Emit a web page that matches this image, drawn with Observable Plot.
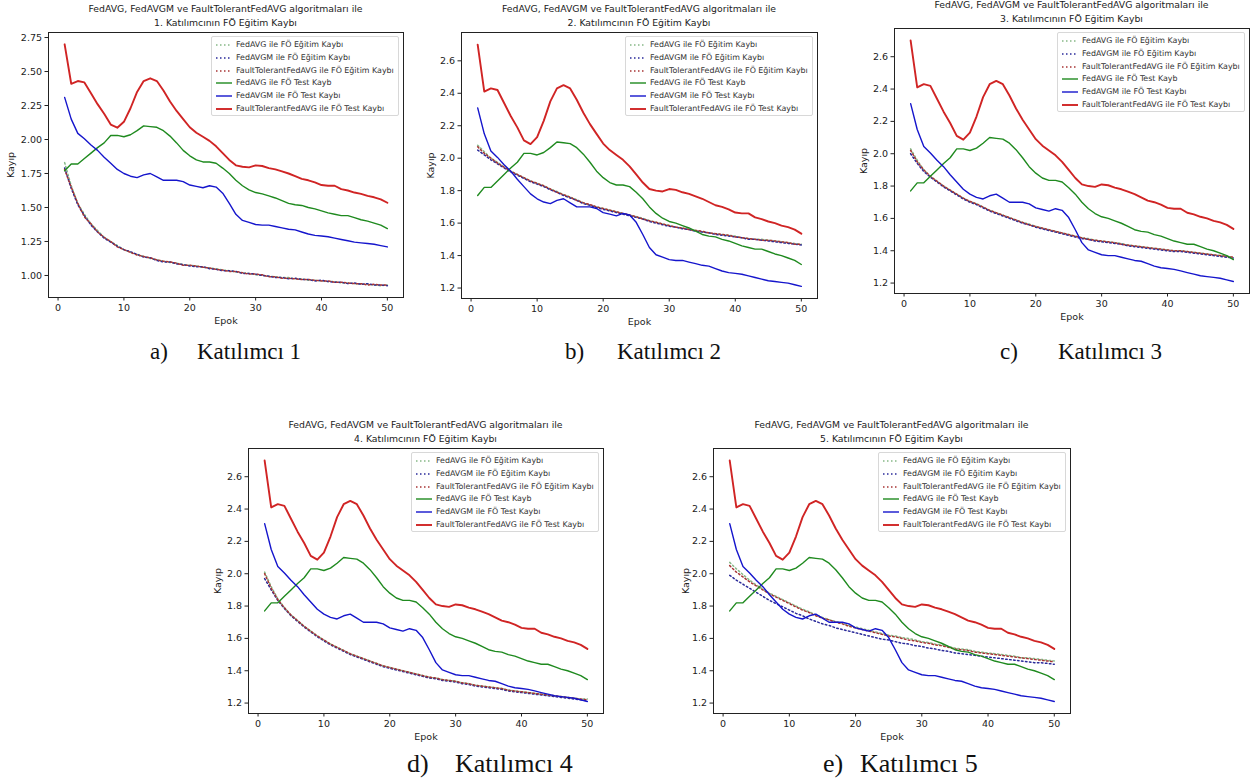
<!DOCTYPE html>
<html><head><meta charset="utf-8">
<script src="https://cdn.jsdelivr.net/npm/d3@7"></script>
<script src="https://cdn.jsdelivr.net/npm/@observablehq/plot@0.6"></script>
<style>
html,body{margin:0;padding:0;background:#fff;}
body{width:1256px;height:783px;position:relative;overflow:hidden;font-family:"DejaVu Sans",sans-serif;}
.abs{position:absolute;}
.title{font-size:9.3px;color:#222;text-align:center;line-height:13.5px;white-space:nowrap;}
.legend{border:1px solid #d8d8d8;border-radius:2px;background:rgba(255,255,255,0.85);box-sizing:border-box;}
.lrow{position:absolute;left:0;height:12px;font-size:7.9px;color:#333;white-space:nowrap;}
.cap{font-family:"Liberation Serif","Times New Roman",serif;color:#111;line-height:1;white-space:nowrap;}
</style></head>
<body>
<script>
const epochs = [1,2,3,4,5,6,7,8,9,10,11,12,13,14,15,16,17,18,19,20,21,22,23,24,25,26,27,28,29,30,31,32,33,34,35,36,37,38,39,40,41,42,43,44,45,46,47,48,49,50];

// Test losses (identical in all five panels)
const testFedAVG = [1.77,1.82,1.82,1.86,1.90,1.94,1.975,2.03,2.03,2.02,2.035,2.065,2.10,2.095,2.09,2.065,2.025,1.975,1.92,1.88,1.85,1.835,1.835,1.825,1.79,1.75,1.70,1.66,1.63,1.61,1.60,1.585,1.57,1.55,1.53,1.52,1.515,1.50,1.49,1.475,1.46,1.45,1.44,1.44,1.425,1.41,1.40,1.385,1.37,1.345];
const testFedAVGM = [2.31,2.15,2.045,2.005,1.96,1.92,1.87,1.825,1.78,1.75,1.73,1.72,1.74,1.75,1.725,1.70,1.70,1.70,1.69,1.665,1.655,1.645,1.66,1.65,1.605,1.53,1.45,1.405,1.39,1.375,1.37,1.37,1.36,1.35,1.34,1.335,1.32,1.305,1.295,1.29,1.285,1.275,1.265,1.255,1.245,1.24,1.235,1.23,1.22,1.21];
const testFaultTolerant = [2.70,2.41,2.43,2.42,2.34,2.26,2.19,2.11,2.087,2.13,2.23,2.35,2.43,2.45,2.43,2.36,2.28,2.21,2.15,2.09,2.05,2.02,1.99,1.95,1.90,1.85,1.81,1.80,1.795,1.81,1.805,1.79,1.78,1.765,1.75,1.73,1.71,1.70,1.685,1.665,1.66,1.66,1.635,1.625,1.61,1.60,1.585,1.575,1.56,1.535];

// Training losses per participant
const train1FedAVG = [1.83,1.66,1.53,1.45,1.38,1.33,1.28,1.25,1.22,1.19,1.17,1.155,1.14,1.125,1.115,1.105,1.095,1.09,1.08,1.075,1.07,1.06,1.055,1.05,1.04,1.035,1.025,1.02,1.015,1.005,1.0,0.995,0.99,0.985,0.985,0.975,0.975,0.965,0.965,0.96,0.955,0.955,0.945,0.945,0.94,0.935,0.935,0.93,0.925,0.93];
const train1FedAVGM = [1.79,1.64,1.52,1.44,1.37,1.32,1.275,1.245,1.215,1.19,1.175,1.155,1.135,1.13,1.11,1.10,1.10,1.085,1.08,1.07,1.065,1.065,1.05,1.045,1.035,1.035,1.03,1.015,1.015,1.01,1.0,0.995,0.985,0.985,0.975,0.98,0.97,0.97,0.96,0.965,0.955,0.95,0.95,0.94,0.945,0.935,0.94,0.93,0.93,0.925];
const train1FaultTolerant = [1.78,1.65,1.53,1.43,1.38,1.32,1.28,1.25,1.21,1.19,1.17,1.15,1.14,1.13,1.115,1.105,1.1,1.09,1.075,1.075,1.07,1.06,1.055,1.045,1.04,1.03,1.03,1.02,1.01,1.01,1.005,0.99,0.99,0.98,0.98,0.975,0.97,0.97,0.965,0.96,0.96,0.95,0.95,0.945,0.94,0.94,0.93,0.935,0.93,0.93];

const train2FedAVG = [2.08,2.04,2.0,1.975,1.945,1.92,1.9,1.88,1.86,1.845,1.83,1.81,1.795,1.775,1.76,1.745,1.725,1.71,1.7,1.69,1.68,1.67,1.66,1.65,1.64,1.63,1.615,1.605,1.595,1.585,1.575,1.57,1.56,1.555,1.545,1.54,1.535,1.53,1.525,1.52,1.51,1.505,1.5,1.5,1.495,1.49,1.485,1.48,1.475,1.47];
const train2FedAVGM = [2.05,2.02,1.99,1.965,1.94,1.915,1.895,1.875,1.855,1.84,1.825,1.805,1.79,1.77,1.755,1.74,1.72,1.71,1.695,1.685,1.675,1.665,1.655,1.645,1.635,1.625,1.61,1.6,1.59,1.58,1.575,1.565,1.56,1.55,1.545,1.54,1.53,1.525,1.52,1.515,1.51,1.5,1.5,1.495,1.49,1.485,1.48,1.475,1.47,1.465];
const train2FaultTolerant = [2.07,2.03,2.0,1.97,1.945,1.92,1.9,1.88,1.86,1.845,1.83,1.81,1.79,1.775,1.76,1.74,1.725,1.715,1.7,1.69,1.68,1.67,1.66,1.65,1.64,1.625,1.615,1.605,1.595,1.585,1.575,1.57,1.56,1.555,1.55,1.54,1.535,1.53,1.525,1.515,1.51,1.505,1.5,1.495,1.495,1.49,1.485,1.48,1.47,1.47];

const train3FedAVG = [2.03,1.96,1.9,1.86,1.83,1.8,1.775,1.75,1.725,1.705,1.69,1.67,1.65,1.635,1.62,1.605,1.59,1.575,1.565,1.55,1.54,1.53,1.52,1.51,1.5,1.49,1.48,1.475,1.465,1.46,1.455,1.45,1.445,1.435,1.43,1.425,1.42,1.415,1.41,1.405,1.4,1.4,1.395,1.39,1.385,1.38,1.375,1.37,1.365,1.36];
const train3FedAVGM = [2.0,1.94,1.89,1.855,1.825,1.795,1.77,1.745,1.72,1.7,1.685,1.665,1.645,1.63,1.615,1.6,1.585,1.57,1.56,1.545,1.535,1.525,1.515,1.505,1.495,1.485,1.475,1.47,1.46,1.455,1.45,1.445,1.44,1.43,1.425,1.42,1.415,1.41,1.405,1.4,1.395,1.395,1.39,1.385,1.38,1.375,1.37,1.365,1.36,1.355];
const train3FaultTolerant = [2.02,1.95,1.9,1.86,1.83,1.8,1.775,1.75,1.725,1.705,1.69,1.67,1.65,1.635,1.62,1.605,1.59,1.575,1.56,1.55,1.54,1.53,1.52,1.51,1.5,1.49,1.48,1.47,1.465,1.46,1.455,1.45,1.44,1.435,1.43,1.425,1.42,1.415,1.41,1.405,1.4,1.4,1.395,1.39,1.385,1.38,1.375,1.37,1.365,1.36];

const train4FedAVG = [2.01,1.92,1.845,1.79,1.745,1.71,1.675,1.645,1.615,1.59,1.565,1.545,1.525,1.505,1.49,1.475,1.46,1.445,1.43,1.42,1.41,1.4,1.39,1.38,1.37,1.36,1.355,1.345,1.34,1.335,1.325,1.32,1.31,1.305,1.3,1.295,1.29,1.28,1.275,1.27,1.265,1.26,1.255,1.25,1.245,1.24,1.235,1.23,1.225,1.225];
const train4FedAVGM = [1.97,1.9,1.835,1.785,1.74,1.705,1.67,1.64,1.61,1.585,1.56,1.54,1.52,1.5,1.485,1.47,1.455,1.44,1.425,1.415,1.405,1.395,1.385,1.375,1.365,1.355,1.35,1.34,1.335,1.33,1.32,1.315,1.305,1.3,1.295,1.29,1.285,1.275,1.27,1.265,1.26,1.255,1.25,1.245,1.24,1.235,1.23,1.225,1.22,1.215];
const train4FaultTolerant = [2.0,1.91,1.84,1.79,1.745,1.71,1.675,1.645,1.615,1.59,1.565,1.545,1.525,1.505,1.49,1.475,1.46,1.445,1.43,1.42,1.41,1.4,1.39,1.38,1.37,1.36,1.355,1.345,1.34,1.335,1.325,1.32,1.31,1.305,1.3,1.295,1.29,1.28,1.275,1.27,1.265,1.26,1.255,1.25,1.245,1.24,1.235,1.23,1.225,1.22];

const train5FedAVG = [2.07,2.03,1.995,1.96,1.93,1.905,1.88,1.86,1.84,1.82,1.8,1.78,1.765,1.745,1.73,1.715,1.705,1.695,1.68,1.67,1.66,1.65,1.64,1.63,1.62,1.615,1.605,1.6,1.59,1.58,1.575,1.565,1.56,1.55,1.54,1.535,1.53,1.52,1.515,1.51,1.505,1.5,1.495,1.49,1.48,1.48,1.475,1.47,1.465,1.46];
const train5FedAVGM = [1.99,1.96,1.935,1.91,1.885,1.86,1.835,1.815,1.795,1.775,1.755,1.74,1.72,1.705,1.69,1.68,1.665,1.655,1.645,1.635,1.625,1.615,1.605,1.595,1.59,1.58,1.57,1.565,1.555,1.55,1.54,1.535,1.525,1.52,1.51,1.505,1.5,1.495,1.49,1.485,1.48,1.475,1.47,1.465,1.46,1.455,1.45,1.45,1.445,1.44];
const train5FaultTolerant = [2.05,2.01,1.98,1.95,1.925,1.9,1.875,1.855,1.835,1.815,1.795,1.775,1.76,1.74,1.725,1.715,1.7,1.69,1.675,1.665,1.655,1.645,1.635,1.625,1.615,1.61,1.6,1.59,1.585,1.575,1.57,1.56,1.555,1.545,1.535,1.53,1.525,1.515,1.51,1.505,1.5,1.495,1.49,1.485,1.48,1.475,1.47,1.465,1.46,1.455];

const xTicks = [0,10,20,30,40,50];
const yTicksP1 = [1.00,1.25,1.50,1.75,2.00,2.25,2.50,2.75];
const yTicksOther = [1.2,1.4,1.6,1.8,2.0,2.2,2.4,2.6];

const seriesNames = ["FedAVG ile FÖ Eğitim Kaybı","FedAVGM ile FÖ Eğitim Kaybı","FaultTolerantFedAVG ile FÖ Eğitim Kaybı","FedAVG ile FÖ Test Kayb","FedAVGM ile FÖ Test Kaybı","FaultTolerantFedAVG ile FÖ Test Kaybı"];
const titleLine1 = "FedAVG, FedAVGM ve FaultTolerantFedAVG algoritmaları ile";
const titleLine2 = ["1. Katılımcının FÖ Eğitim Kaybı","2. Katılımcının FÖ Eğitim Kaybı","3. Katılımcının FÖ Eğitim Kaybı","4. Katılımcının FÖ Eğitim Kaybı","5. Katılımcının FÖ Eğitim Kaybı"];
const captionLetters = ["a)","b)","c)","d)","e)"];
const captionTexts = ["Katılımcı 1","Katılımcı 2","Katılımcı 3","Katılımcı 4","Katılımcı 5"];

const trainSets = [
  [train1FedAVG, train1FedAVGM, train1FaultTolerant],
  [train2FedAVG, train2FedAVGM, train2FaultTolerant],
  [train3FedAVG, train3FedAVGM, train3FaultTolerant],
  [train4FedAVG, train4FedAVGM, train4FaultTolerant],
  [train5FedAVG, train5FedAVGM, train5FaultTolerant]
];

// styles
const styles = [
  {stroke:"#86b886", width:1.5, dash:"1.5,2.5"},
  {stroke:"#2a2a9a", width:1.5, dash:"1.5,2.5"},
  {stroke:"#a83434", width:1.5, dash:"1.5,2.5"},
  {stroke:"#1f8a1f", width:1.4, dash:null},
  {stroke:"#1515cc", width:1.4, dash:null},
  {stroke:"#d02424", width:1.9, dash:null}
];

// layout: frame boxes (page coordinates)
const panels = [
  {L:48,  R:403,  T:32,  B:297, domain:[0.838,2.787], ticks:yTicksP1, fmt:d3.format(".2f"), ylabOff:41, capTop:340, capFs:23, capA:150, capB:197},
  {L:461, R:817,  T:32,  B:298, domain:[1.1355,2.7745], ticks:yTicksOther, fmt:d3.format(".1f"), ylabOff:34, capTop:340, capFs:23, capA:565, capB:617},
  {L:894, R:1249, T:28,  B:293, domain:[1.1355,2.7745], ticks:yTicksOther, fmt:d3.format(".1f"), ylabOff:34, capTop:340, capFs:23, capA:1000, capB:1058},
  {L:248, R:603,  T:448, B:713, domain:[1.1355,2.7745], ticks:yTicksOther, fmt:d3.format(".1f"), ylabOff:34, capTop:751, capFs:26, capA:407, capB:455},
  {L:713, R:1070, T:448, B:713, domain:[1.1355,2.7745], ticks:yTicksOther, fmt:d3.format(".1f"), ylabOff:31, capTop:751, capFs:26, capA:823, capB:860}
];

function addDiv(cls, left, top, html, extra) {
  const d = document.createElement("div");
  d.className = "abs " + cls;
  d.style.left = left + "px"; d.style.top = top + "px";
  if (extra) Object.assign(d.style, extra);
  d.innerHTML = html;
  document.body.appendChild(d);
  return d;
}

panels.forEach((p, i) => {
  const ml = 48, mr = 12, mt = 10, mb = 40;
  const fw = p.R - p.L, fh = p.B - p.T;
  const series = [...trainSets[i], testFedAVG, testFedAVGM, testFaultTolerant];
  const marks = [Plot.frame({stroke:"#222", strokeWidth:1})];
  series.forEach((vals, k) => {
    const data = epochs.map((e, j) => ({epoch:e, loss:vals[j]}));
    const st = styles[k];
    const opts = {x:"epoch", y:"loss", stroke:st.stroke, strokeWidth:st.width};
    if (st.dash) { opts.strokeDasharray = st.dash; }
    marks.push(Plot.line(data, opts));
  });
  marks.push(Plot.axisX({ticks:xTicks, tickSize:3.5, tickPadding:3, label:"Epok", labelAnchor:"center", labelOffset:26, labelArrow:"none"}));
  marks.push(Plot.axisY({ticks:p.ticks, tickFormat:p.fmt, tickSize:3.5, tickPadding:3, label:"Kayıp", labelAnchor:"center", labelOffset:p.ylabOff, labelArrow:"none"}));
  const chart = Plot.plot({
    width: fw + ml + mr, height: fh + mt + mb,
    marginLeft: ml, marginRight: mr, marginTop: mt, marginBottom: mb,
    style: {fontFamily:"DejaVu Sans", fontSize:"9.5px", color:"#222", background:"transparent", overflow:"visible"},
    x: {domain:[-1.45, 52.45]},
    y: {domain:p.domain},
    marks
  });
  chart.style.position = "absolute";
  chart.style.left = (p.L - ml) + "px";
  chart.style.top = (p.T - mt) + "px";
  document.body.appendChild(chart);

  // title (two lines)
  addDiv("title", p.L, p.T - 30, titleLine1 + "<br>" + titleLine2[i], {width: fw + "px"});

  // legend
  const lw = 188, lh = 80;
  const leg = addDiv("legend", p.R - 4 - lw, p.T + 4, "", {width: lw + "px", height: lh + "px"});
  seriesNames.forEach((name, k) => {
    const st = styles[k];
    const row = document.createElement("div");
    row.className = "lrow";
    row.style.top = (2 + k * 12.8) + "px";
    row.style.width = lw + "px";
    const dash = st.dash ? `stroke-dasharray="${st.dash}"` : "";
    row.innerHTML = `<svg width="22" height="12" style="position:absolute;left:2px;top:0"><line x1="2" x2="18" y1="6" y2="6" stroke="${st.stroke}" stroke-width="${st.width}" ${dash}/></svg><span style="position:absolute;left:24px;top:1px;line-height:10px">${name}</span>`;
    leg.appendChild(row);
  });

  // caption
  addDiv("cap", p.capA, p.capTop, captionLetters[i], {fontSize: p.capFs + "px"});
  addDiv("cap", p.capB, p.capTop, captionTexts[i], {fontSize: p.capFs + "px"});
});
</script>
</body></html>
